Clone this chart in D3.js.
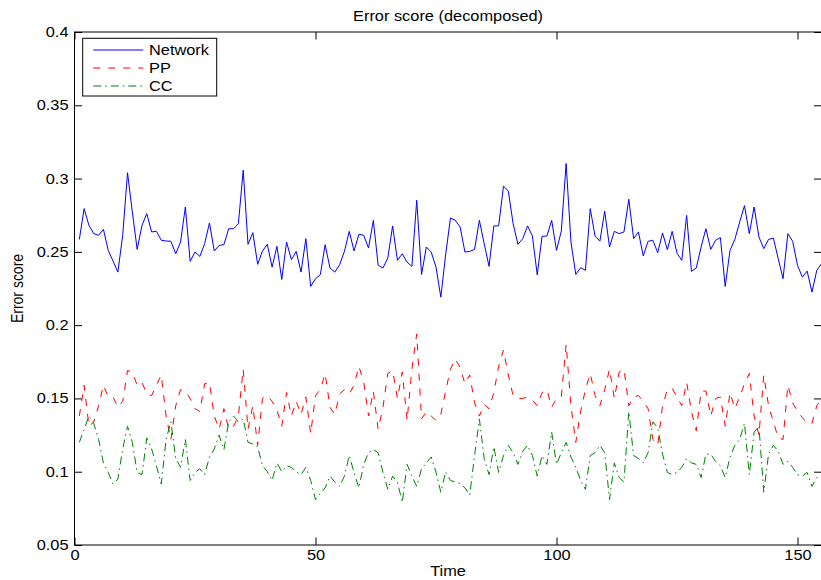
<!DOCTYPE html>
<html><head><meta charset="utf-8">
<script src="https://cdn.jsdelivr.net/npm/d3@7/dist/d3.min.js"></script>
<style>html,body{margin:0;padding:0;background:#fff}svg{display:block}text{font-family:"Liberation Sans",Arial,sans-serif;font-size:14px;fill:#000}</style>
</head><body>
<svg id="c" width="821" height="580"></svg>
<script>
const network = [0.2585,0.2795,0.268,0.2624,0.2613,0.2654,0.251,0.2437,0.2362,0.2613,0.304,0.2772,0.2517,0.268,0.2761,0.2636,0.264,0.2579,0.2574,0.2572,0.2487,0.2567,0.2806,0.2435,0.2499,0.2469,0.2556,0.2697,0.2506,0.2544,0.2549,0.2658,0.2658,0.2692,0.3057,0.2551,0.2631,0.2415,0.2506,0.2551,0.2396,0.2538,0.2312,0.2567,0.2447,0.2503,0.2362,0.259,0.2264,0.2317,0.2344,0.2549,0.239,0.2362,0.2412,0.2503,0.264,0.2506,0.262,0.2613,0.2526,0.2715,0.2408,0.239,0.2458,0.2677,0.2442,0.2487,0.243,0.2401,0.2852,0.2346,0.2533,0.2499,0.2396,0.2191,0.248,0.2731,0.2715,0.267,0.2499,0.2503,0.2517,0.2715,0.2556,0.2401,0.2677,0.2677,0.2948,0.2916,0.2692,0.2551,0.259,0.2677,0.2608,0.2344,0.2606,0.2608,0.2715,0.251,0.2642,0.3103,0.2567,0.2346,0.2392,0.2374,0.2795,0.2607,0.2573,0.2777,0.2533,0.264,0.2624,0.2636,0.2859,0.259,0.2636,0.2472,0.2572,0.2579,0.2494,0.2629,0.2515,0.264,0.249,0.2442,0.2749,0.2367,0.239,0.2533,0.2658,0.2517,0.2579,0.2597,0.2264,0.251,0.2585,0.2704,0.2815,0.2624,0.2806,0.2601,0.2522,0.2585,0.2594,0.2453,0.2317,0.2624,0.2572,0.2408,0.2328,0.2369,0.2225,0.2374,0.2419];
const pp = [0.138,0.159,0.131,0.134,0.145,0.159,0.151,0.151,0.144,0.148,0.169,0.168,0.159,0.161,0.153,0.152,0.159,0.166,0.138,0.122,0.145,0.156,0.155,0.15,0.143,0.141,0.16,0.161,0.138,0.129,0.143,0.129,0.131,0.138,0.17,0.129,0.145,0.118,0.15,0.152,0.148,0.142,0.131,0.154,0.138,0.148,0.139,0.151,0.126,0.152,0.156,0.167,0.144,0.139,0.153,0.156,0.153,0.159,0.172,0.161,0.138,0.155,0.129,0.144,0.167,0.169,0.15,0.168,0.135,0.17,0.194,0.136,0.141,0.138,0.135,0.139,0.155,0.17,0.177,0.171,0.16,0.166,0.147,0.138,0.146,0.143,0.154,0.172,0.183,0.166,0.152,0.15,0.15,0.151,0.149,0.145,0.154,0.156,0.144,0.15,0.151,0.187,0.145,0.12,0.141,0.156,0.167,0.152,0.145,0.156,0.17,0.15,0.168,0.17,0.145,0.151,0.152,0.148,0.143,0.122,0.118,0.145,0.156,0.157,0.151,0.145,0.161,0.141,0.128,0.155,0.155,0.138,0.15,0.151,0.131,0.154,0.143,0.151,0.16,0.167,0.138,0.125,0.166,0.145,0.134,0.123,0.122,0.159,0.147,0.141,0.137,0.133,0.133,0.145,0.15];
const cc = [0.12,0.129,0.138,0.133,0.122,0.106,0.0995,0.0916,0.095,0.1155,0.131,0.12,0.0995,0.098,0.123,0.1155,0.104,0.0916,0.122,0.134,0.109,0.103,0.122,0.094,0.0995,0.102,0.098,0.11,0.1155,0.125,0.115,0.134,0.138,0.134,0.136,0.12,0.119,0.117,0.104,0.1,0.094,0.106,0.1,0.104,0.103,0.1,0.098,0.103,0.094,0.081,0.085,0.089,0.097,0.093,0.09,0.097,0.111,0.0995,0.089,0.105,0.113,0.115,0.113,0.0995,0.088,0.097,0.093,0.079,0.105,0.097,0.09,0.102,0.106,0.11,0.0995,0.086,0.1,0.094,0.093,0.092,0.089,0.084,0.111,0.136,0.109,0.098,0.117,0.0995,0.111,0.118,0.113,0.105,0.114,0.118,0.111,0.097,0.111,0.105,0.127,0.105,0.113,0.12,0.11,0.103,0.094,0.088,0.111,0.113,0.118,0.113,0.081,0.106,0.096,0.093,0.141,0.111,0.109,0.106,0.113,0.134,0.13,0.112,0.0995,0.098,0.0995,0.103,0.109,0.106,0.105,0.096,0.112,0.112,0.107,0.104,0.096,0.11,0.118,0.122,0.133,0.098,0.127,0.131,0.086,0.112,0.118,0.114,0.105,0.107,0.103,0.098,0.097,0.0995,0.09,0.096,0.097];
const xTicks = [0, 50, 100, 150];
const yTicks = [0.05, 0.1, 0.15, 0.2, 0.25, 0.3, 0.35, 0.4];
const seriesNames = ["Network", "PP", "CC"];
const titleText = "Error score (decomposed)";
const xLabel = "Time";
const yLabel = "Error score";

const SX = 1.17; // horizontal text stretch
const L = 74.5, R = 821.6, T = 32, B = 545;
const svg = d3.select("#c");
svg.append("rect").attr("width", 821).attr("height", 580).attr("fill", "#fff");

const x = d3.scaleLinear().domain([0, 155]).range([L, R]);
const y = d3.scaleLinear().domain([0.05, 0.4]).range([B, T]);

function stretchText(sel) {
  sel.each(function() {
    const t = d3.select(this);
    const tx = +t.attr("x") || 0, ty = +t.attr("y") || 0;
    t.attr("x", 0).attr("y", 0).attr("transform", `translate(${tx},${ty}) scale(${SX},1)`);
  });
}
function styleAxis(g) {
  g.attr("font-size", null).attr("font-family", null);
  g.selectAll("path.domain").remove();
  g.selectAll("line").attr("stroke", "#000").attr("stroke-width", 1);
  g.selectAll("text").style("font-size", "14px").style("font-family", '"Liberation Sans",Arial,sans-serif').attr("fill", "#000");
}

// box
svg.append("rect").attr("x", L).attr("y", T).attr("width", R - L).attr("height", B - T)
  .attr("fill", "none").attr("stroke", "#000").attr("stroke-width", 1);

const fmt = d => String(+d.toFixed(2));
const gL = svg.append("g").attr("transform", `translate(${L},0)`)
  .call(d3.axisLeft(y).tickValues(yTicks).tickFormat(fmt).tickSize(-7.5).tickSizeOuter(0).tickPadding(6));
styleAxis(gL); stretchText(gL.selectAll("text"));
const gB = svg.append("g").attr("transform", `translate(0,${B})`)
  .call(d3.axisBottom(x).tickValues(xTicks).tickFormat(d3.format("d")).tickSize(-7.5).tickSizeOuter(0).tickPadding(5));
styleAxis(gB); stretchText(gB.selectAll("text"));
const gT = svg.append("g").attr("transform", `translate(0,${T})`)
  .call(d3.axisTop(x).tickValues(xTicks).tickFormat("").tickSize(-7.5).tickSizeOuter(0));
styleAxis(gT);
const gR = svg.append("g").attr("transform", `translate(${R},0)`)
  .call(d3.axisRight(y).tickValues(yTicks).tickFormat("").tickSize(-7.5).tickSizeOuter(0));
styleAxis(gR);

// lines
const styles = [
  {data: network, color: "#0000ff", dash: null},
  {data: pp, color: "#ff0000", dash: "7,8"},
  {data: cc, color: "#008000", dash: "8,4,1.5,4"}
];
const line = d3.line().x((d, i) => x(i + 1)).y(d => y(d));
styles.forEach(s => {
  svg.append("path").datum(s.data).attr("d", line).attr("fill", "none")
    .attr("stroke", s.color).attr("stroke-width", 1)
    .attr("stroke-dasharray", s.dash);
});

// labels
function label(xp, yp, s, anchor, rot) {
  svg.append("text").attr("transform", `translate(${xp},${yp}) scale(${SX},1)` + (rot ? " rotate(-90)" : ""))
    .attr("text-anchor", anchor).text(s);
}
label((L + R) / 2, 21, titleText, "middle");
label((L + R) / 2, 576, xLabel, "middle");
label(23, (T + B) / 2, yLabel, "middle", true);

// legend
const lg = svg.append("g");
lg.append("rect").attr("x", 82.7).attr("y", 38.3).attr("width", 134).attr("height", 57.7)
  .attr("fill", "#fff").attr("stroke", "#000").attr("stroke-width", 1);
const rowY = [50, 68, 86];
seriesNames.forEach((n, i) => {
  lg.append("line").attr("x1", 93.3).attr("x2", 143.3).attr("y1", rowY[i]).attr("y2", rowY[i])
    .attr("stroke", styles[i].color).attr("stroke-width", 1).attr("stroke-dasharray", styles[i].dash);
  lg.append("text").attr("transform", `translate(149,${rowY[i] + 5}) scale(${SX},1)`).text(n);
});
</script>
</body></html>
